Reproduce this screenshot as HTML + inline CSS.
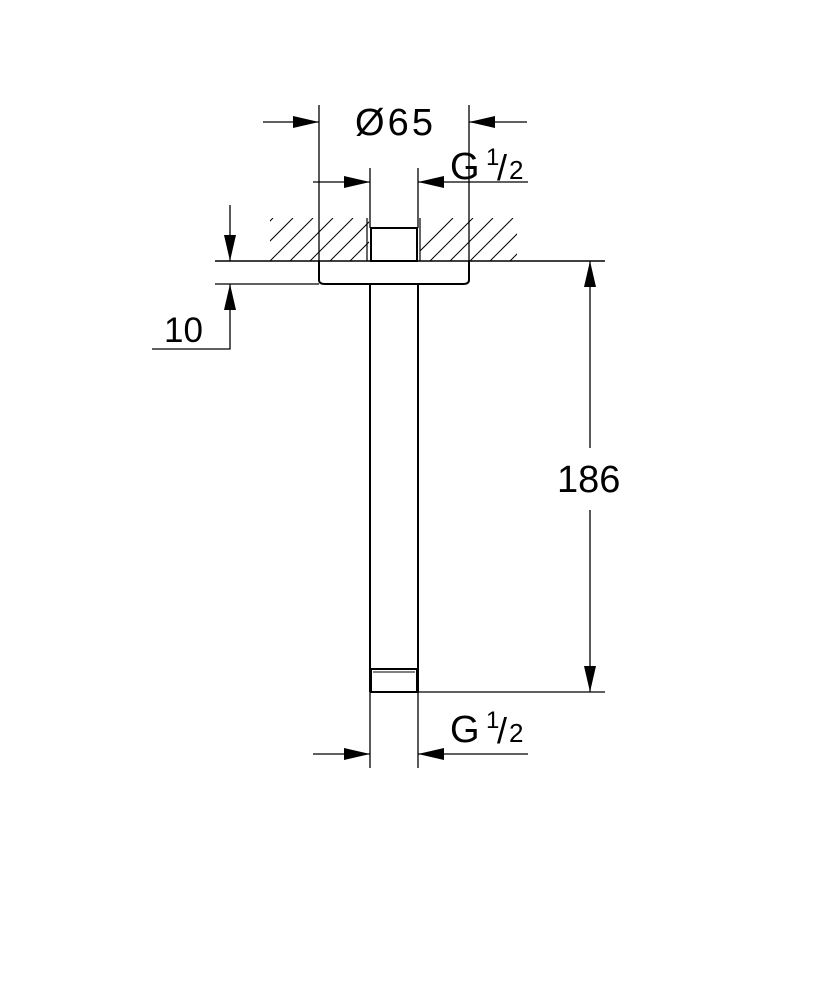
<!DOCTYPE html>
<html><head><style>body{margin:0;background:#fff}svg{display:block}</style></head><body>
<svg width="833" height="1000" viewBox="0 0 833 1000" xmlns="http://www.w3.org/2000/svg" font-family="Liberation Sans, sans-serif">
<defs>
<clipPath id="hc"><rect x="270" y="218" width="99" height="43"/><rect x="420" y="218" width="97" height="43"/></clipPath>
</defs>
<g stroke="#000" stroke-width="1.3" fill="none">
<g clip-path="url(#hc)" stroke-width="1">
<path d="M230 261l43-43M250 261l43-43M270 261l43-43M290 261l43-43M310 261l43-43M330 261l43-43M350 261l43-43M410 261l43-43M430 261l43-43M450 261l43-43M470 261l43-43M490 261l43-43M510 261l43-43M530 261l43-43"/>
</g>
<line x1="215" y1="261" x2="605" y2="261" stroke-width="1.6"/>
<line x1="215" y1="284" x2="319" y2="284"/>
<path d="M367 261V218M420 261V218" stroke-width="1.2"/>
<rect x="371" y="228" width="46" height="33" stroke-width="2"/>
<path d="M319 261V280q0 4 6 4H463q6 0 6-4V261" stroke-width="2"/>
<path d="M370 284V692M418 284V692" stroke-width="2"/>
<rect x="371" y="669" width="46" height="23" stroke-width="2"/>
<line x1="373" y1="672" x2="415" y2="672" stroke-width="1"/>
<path d="M319 105V261M469 105V261M370 168V228M418 168V228M370 692V768M418 692V768"/>
<line x1="418" y1="692" x2="605" y2="692"/>
<path d="M263 122H319M469 122H527M313 182H370M418 182H528M313 754H370M418 754H528"/>
<path d="M230 205V261M230 284V349H152"/>
<path d="M590 261V448M590 510V692"/>
</g>
<g fill="#000">
<path d="M319 122l-26-6v12z M469 122l26-6v12z"/>
<path d="M370 182l-26-6v12z M418 182l26-6v12z"/>
<path d="M370 754l-26-6v12z M418 754l26-6v12z"/>
<path d="M230 261l-6-26h12z M230 284l-6 26h12z"/>
<path d="M590 261l-6 26h12z M590 692l-6-26h12z"/>
</g>
<g font-size="38" fill="#000">
<text x="355" y="135" textLength="78">Ø65</text>
<text x="450" y="179">G</text><text x="486" y="165" font-size="24">1</text><text x="497" y="180" font-size="36">/</text><text x="509" y="179" font-size="26">2</text>
<text x="450" y="742">G</text><text x="486" y="728" font-size="24">1</text><text x="497" y="743" font-size="36">/</text><text x="509" y="742" font-size="26">2</text>
<text x="164" y="342" font-size="35">10</text>
<text x="557" y="492" font-size="38">186</text>
</g>
</svg>
</body></html>
